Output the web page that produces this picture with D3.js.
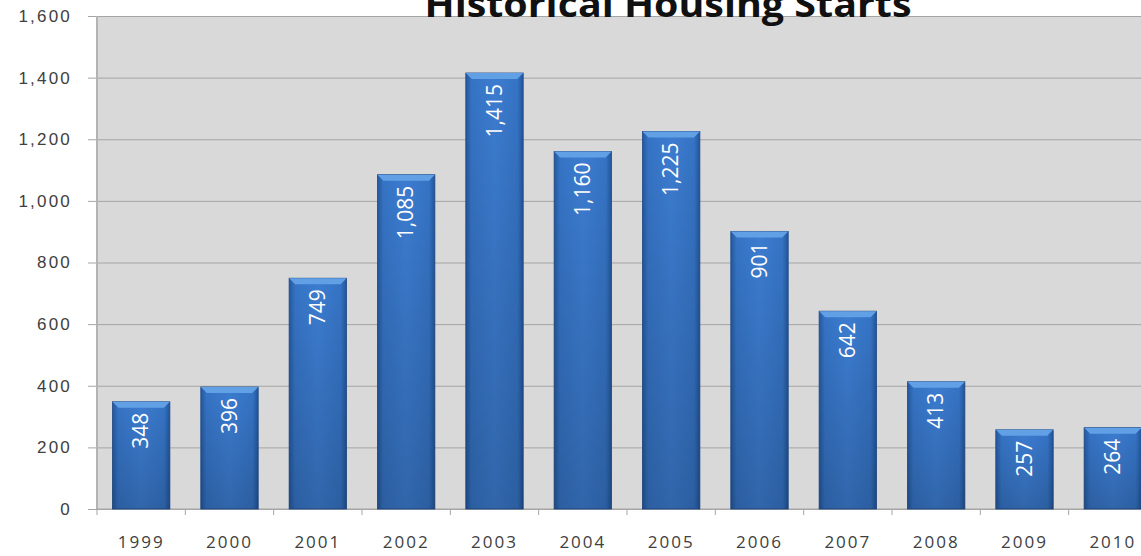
<!DOCTYPE html>
<html>
<head>
<meta charset="utf-8">
<script src="https://cdn.jsdelivr.net/npm/d3@7"></script>
<style>
  body { margin: 0; background: #fff; }
  svg { display: block; font-family: "Open Sans", sans-serif; }
</style>
</head>
<body>
<div id="chart"></div>
<script>
// Data
const years = ['1999', '2000', '2001', '2002', '2003', '2004', '2005', '2006', '2007', '2008', '2009', '2010'];
const starts = [348, 396, 749, 1085, 1415, 1160, 1225, 901, 642, 413, 257, 264];
const yTicks = [0, 200, 400, 600, 800, 1000, 1200, 1400, 1600];

function drawChart() {
  const width = 1141;
  const height = 556;
  const plot = { left: 97, top: 16, bottom: 509, right: 1157 };

  const svg = d3.select('#chart')
    .append('svg')
    .attr('width', width)
    .attr('height', height);

  // gradients for the bevelled bars
  const defs = svg.append('defs');
  const side = defs.append('linearGradient').attr('id', 'barSide')
    .attr('x1', 0).attr('x2', 1).attr('y1', 0).attr('y2', 0);
  side.append('stop').attr('offset', '0%').attr('stop-color', '#24589e');
  side.append('stop').attr('offset', '10%').attr('stop-color', '#3573c4');
  side.append('stop').attr('offset', '50%').attr('stop-color', '#3c7cd0');
  side.append('stop').attr('offset', '90%').attr('stop-color', '#3573c4');
  side.append('stop').attr('offset', '100%').attr('stop-color', '#22559a');

  const shade = defs.append('linearGradient').attr('id', 'barShade')
    .attr('x1', 0).attr('x2', 0).attr('y1', 0).attr('y2', 1);
  shade.append('stop').attr('offset', '0%').attr('stop-color', '#000').attr('stop-opacity', 0);
  shade.append('stop').attr('offset', '100%').attr('stop-color', '#000').attr('stop-opacity', 0.18);

  // scales
  const x = d3.scaleBand()
    .domain(years)
    .range([plot.left, plot.right])
    .paddingInner(0.35)
    .paddingOuter(0.175);

  const y = d3.scaleLinear()
    .domain([0, 1600])
    .range([plot.bottom, plot.top]);

  // plot background
  svg.append('rect')
    .attr('x', plot.left)
    .attr('y', plot.top)
    .attr('width', plot.right - plot.left)
    .attr('height', plot.bottom - plot.top)
    .attr('fill', '#d9d9d9');

  // gridlines + y axis
  const yAxis = svg.append('g')
    .attr('transform', `translate(${plot.left},0)`)
    .call(d3.axisLeft(y)
      .tickValues(yTicks)
      .tickSize(-(plot.right - plot.left))
      .tickPadding(25)
      .tickFormat(d3.format(',')));
  yAxis.select('.domain').remove();
  yAxis.selectAll('.tick line')
    .attr('stroke', '#a5a5a5')
    .attr('x1', -9);
  yAxis.selectAll('.tick text')
    .attr('fill', '#404040')
    .attr('font-size', 17)
    .attr('letter-spacing', 2.2);

  // left axis line
  svg.append('line')
    .attr('x1', plot.left).attr('x2', plot.left)
    .attr('y1', plot.top).attr('y2', plot.bottom)
    .attr('stroke', '#b3b3b3')
    .attr('stroke-width', 2);

  // x axis with ticks at category boundaries
  const boundaries = years.map(d => x(d) - x.step() * x.paddingInner() / 2);
  svg.append('line')
    .attr('x1', plot.left).attr('x2', width)
    .attr('y1', plot.bottom).attr('y2', plot.bottom)
    .attr('stroke', '#a5a5a5');
  svg.append('g').selectAll('line')
    .data(boundaries)
    .join('line')
    .attr('x1', d => d).attr('x2', d => d)
    .attr('y1', plot.bottom).attr('y2', plot.bottom + 6)
    .attr('stroke', '#a5a5a5');

  svg.append('g').selectAll('text')
    .data(years)
    .join('text')
    .attr('x', d => x(d) + x.bandwidth() / 2)
    .attr('y', 548)
    .attr('text-anchor', 'middle')
    .attr('fill', '#404040')
    .attr('font-size', 17)
    .attr('letter-spacing', 2)
    .text(d => d);

  // bars
  const bars = svg.append('g').selectAll('g')
    .data(years.map((d, i) => ({ year: d, value: starts[i] })))
    .join('g');

  bars.append('rect')
    .attr('x', d => x(d.year))
    .attr('y', d => y(d.value))
    .attr('width', x.bandwidth())
    .attr('height', d => y(0) - y(d.value))
    .attr('fill', 'url(#barSide)')
    .attr('stroke', '#1f4a86')
    .attr('stroke-width', 0.8);

  bars.append('rect')
    .attr('x', d => x(d.year))
    .attr('y', d => y(d.value))
    .attr('width', x.bandwidth())
    .attr('height', d => y(0) - y(d.value))
    .attr('fill', 'url(#barShade)');

  // top bevel
  bars.append('path')
    .attr('d', d => {
      const x0 = x(d.year), x1 = x0 + x.bandwidth(), t = y(d.value);
      return `M${x0},${t}L${x1},${t}L${x1 - 6},${t + 6}L${x0 + 6},${t + 6}Z`;
    })
    .attr('fill', '#62a0e6');

  // value labels, rotated
  bars.append('text')
    .attr('transform', d => `translate(${x(d.year) + x.bandwidth() / 2 + 7},${y(d.value) + 11}) rotate(-90)`)
    .attr('text-anchor', 'end')
    .attr('fill', '#fff')
    .attr('font-size', 21)
    .text(d => d3.format(',')(d.value));

  // title
  svg.append('text')
    .attr('x', 668)
    .attr('y', 17)
    .attr('text-anchor', 'middle')
    .attr('font-size', 36)
    .attr('font-weight', 700)
    .attr('fill', '#111')
    .attr('textLength', 487)
    .attr('lengthAdjust', 'spacingAndGlyphs')
    .text('Historical Housing Starts');
}

drawChart();
</script>
</body>
</html>
